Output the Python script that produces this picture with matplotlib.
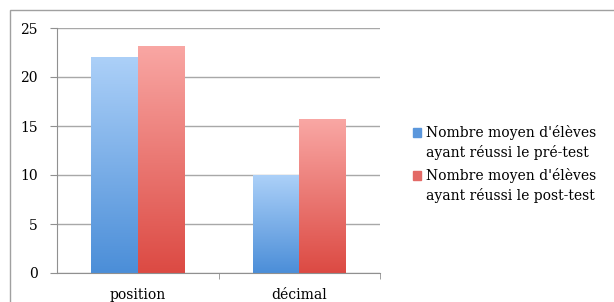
import matplotlib.pyplot as plt
import numpy as np
from matplotlib.colors import LinearSegmentedColormap
from matplotlib.patches import Patch, Rectangle
from matplotlib.legend_handler import HandlerPatch

# Data
categories = ['position', 'décimal']
pre_test = [22, 10]
post_test = [23.2, 15.7]
labels = ["Nombre moyen d'élèves\nayant réussi le pré-test",
          "Nombre moyen d'élèves\nayant réussi le post-test"]

plt.rcParams['font.family'] = 'DejaVu Serif'

blue_cmap = LinearSegmentedColormap.from_list('b', ['#4b8ed8', '#acd0f8'])
red_cmap = LinearSegmentedColormap.from_list('r', ['#dc4a43', '#f9a7a4'])

fig = plt.figure(figsize=(6.14, 3.02), dpi=100)
# light frame round the chart
fig.patches.append(Rectangle((10 / 614, -0.05), 1.1, (302 - 10) / 302 + 0.05,
                             transform=fig.transFigure, fill=False,
                             edgecolor='#a0a0a0', linewidth=1.0))

ax = fig.add_axes([57 / 614, 29 / 302, (380 - 57) / 614, (273 - 28) / 302])

x = np.arange(len(categories))
width = 0.288


def gradient_bars(xpos, values, cmap):
	bars = ax.bar(xpos, values, width, color='none', edgecolor='none', zorder=2)
	grad = np.linspace(0, 1, 256).reshape(-1, 1)
	for b in bars:
		x0, w, h = b.get_x(), b.get_width(), b.get_height()
		im = ax.imshow(grad, cmap=cmap, origin='lower', aspect='auto',
		               extent=(x0, x0 + w, 0, h), zorder=2)
		im.set_clip_path(b)
	return bars


gradient_bars(x - width / 2, pre_test, blue_cmap)
gradient_bars(x + width / 2, post_test, red_cmap)

ax.set_xlim(-0.5, 1.5)
ax.set_ylim(0, 25)
ax.set_yticks(range(0, 26, 5))
ax.set_xticks(x)
ax.set_xticklabels(categories, fontsize=10)
ax.tick_params(axis='x', length=0, pad=11)
ax.set_xticks([0.5, 1.5], minor=True)
ax.tick_params(axis='x', which='minor', length=4, color='#909090', direction='out')
ax.tick_params(axis='y', labelsize=10, length=5, color='#909090', pad=9)

ax.grid(axis='y', color='#a8a8a8', linewidth=1)
ax.set_axisbelow(True)
for s in ['top', 'right']:
	ax.spines[s].set_visible(False)
ax.spines['left'].set_color('#909090')
ax.spines['bottom'].set_color('#909090')


# legend square sits next to the first line of each label
def top_square(legend, orig_handle, xdescent, ydescent, width, height, fontsize):
	return Rectangle((-xdescent, -ydescent + 0.72 * fontsize), width, height)


handles = [Patch(color='#5b97dc'), Patch(color='#e36a66')]
leg = fig.legend(handles, labels, loc='upper left', bbox_to_anchor=(400 / 614, 1 - 112 / 302),
                 frameon=False, fontsize=10, handlelength=0.6, handleheight=0.6,
                 handletextpad=0.35, labelspacing=0.55,
                 handler_map={Patch: HandlerPatch(patch_func=top_square)})
for t in leg.get_texts():
	t.set_linespacing(1.45)

fig.savefig('out.png', dpi=100)
